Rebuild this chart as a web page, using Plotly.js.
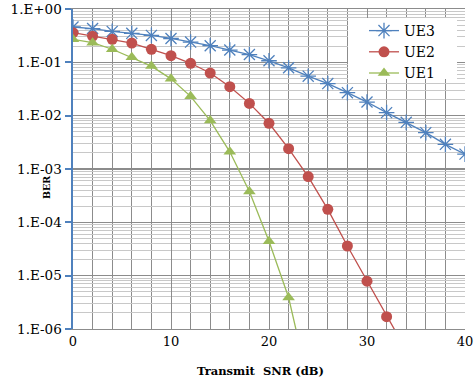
<!DOCTYPE html>
<html><head><meta charset="utf-8">
<script src="https://cdn.plot.ly/plotly-3.0.1.min.js"></script>
<style>body{margin:0;padding:0;background:#fff}#c{width:475px;height:381px}</style>
</head><body><div id="c"></div>
<script>
const snr = [0,2,4,6,8,10,12,14,16,18,20,22,24,26,28,30,32,34,36,38,40];
const ue3 = [0.46,0.43,0.38,0.35,0.32,0.28,0.24,0.205,0.17,0.14,0.107,0.079,0.055,0.040,0.027,0.018,0.0114,0.0075,0.0048,0.0029,0.0019];
const snr2 = [0,2,4,6,8,10,12,14,16,18,20,22,24,26,28,30,32,34];
const ue2 = [0.36,0.31,0.27,0.23,0.175,0.133,0.096,0.063,0.035,0.017,0.0072,0.0024,0.00072,0.000175,0.000036,0.0000079,0.0000017,0.0000004];
const snr1 = [0,2,4,6,8,10,12,14,16,18,20,22,24];
const ue1 = [0.27,0.234,0.176,0.124,0.085,0.049,0.023,0.0081,0.0021,0.00038,0.000044,0.0000039,0.0000001];
const yTickVals = [1,0.1,0.01,0.001,0.0001,0.00001,0.000001];
const yTickText = ['1.E+00','1.E-01','1.E-02','1.E-03','1.E-04','1.E-05','1.E-06'];
const xTickVals = [0,10,20,30,40];

const serif = 'DejaVu Serif';
const PL = 73, PT = 9, PW = 392, PH = 320;
const px = v => (v - PL) / PW, py = v => (PT + PH - v) / PH;
const traces = [
  {x:snr, y:ue3, name:'UE3', mode:'lines+markers', line:{color:'#4F81BD', width:1.3},
   marker:{symbol:'asterisk-open', size:13, line:{color:'#4F81BD', width:1.3}, color:'#4F81BD'}},
  {x:snr2, y:ue2, name:'UE2', mode:'lines+markers', line:{color:'#C0504D', width:1.3},
   marker:{symbol:'circle', size:11, color:'#C0504D'}},
  {x:snr1, y:ue1, name:'UE1', mode:'lines+markers', line:{color:'#9BBB59', width:1.3},
   marker:{symbol:'triangle-up', size:11, color:'#9BBB59'}}
];
const layout = {
  width:475, height:381,
  margin:{l:PL, r:10, t:PT, b:52},
  paper_bgcolor:'#fff', plot_bgcolor:'#fff',
  font:{family:serif, color:'#000', size:13},
  showlegend:true,
  legend:{x:px(364), y:py(15), xanchor:'left', yanchor:'top', bgcolor:'rgba(0,0,0,0)', borderwidth:0,
    font:{family:serif, size:14, color:'#000'}, tracegroupgap:0},
  shapes:[{type:'rect', xref:'paper', yref:'paper', x0:px(348), x1:px(457), y0:py(79), y1:py(18),
    fillcolor:'#fff', line:{width:0}, layer:'above'}],
  xaxis:{range:[0,40], tickmode:'array', tickvals:xTickVals, ticks:'', showgrid:true,
    gridcolor:'#8c8c8c', gridwidth:1, zeroline:false, showline:true, linecolor:'#8c8c8c', mirror:true,
    minor:{dtick:2, showgrid:true, gridcolor:'#8c8c8c', gridwidth:1, ticks:''},
    tickfont:{family:serif, size:13}, ticklen:0},
  yaxis:{type:'log', range:[-6,0], tickmode:'array', tickvals:yTickVals, ticktext:yTickText,
    ticks:'outside', ticklen:6, tickcolor:'#4F81BD', tickwidth:2,
    showgrid:true, gridcolor:'#8c8c8c', gridwidth:1.2, zeroline:false,
    showline:true, linecolor:'#4F81BD', linewidth:2.5,
    minor:{dtick:'D1', showgrid:true, gridcolor:'#c8c8c8', gridwidth:1, ticks:''},
    tickfont:{family:serif, size:13.5}},
  annotations:[
    {text:'<b>Transmit  SNR (dB)</b>', xref:'paper', yref:'paper', x:px(260), y:py(371),
     xanchor:'center', yanchor:'middle', showarrow:false, font:{family:serif, size:11.5}},
    {text:'<b>BER</b>', xref:'paper', yref:'paper', x:px(46), y:py(188), textangle:-90,
     xanchor:'center', yanchor:'middle', showarrow:false, font:{family:serif, size:9.5}}
  ]
};
Plotly.newPlot('c', traces, layout, {displayModeBar:false, staticPlot:true});
</script></body></html>
